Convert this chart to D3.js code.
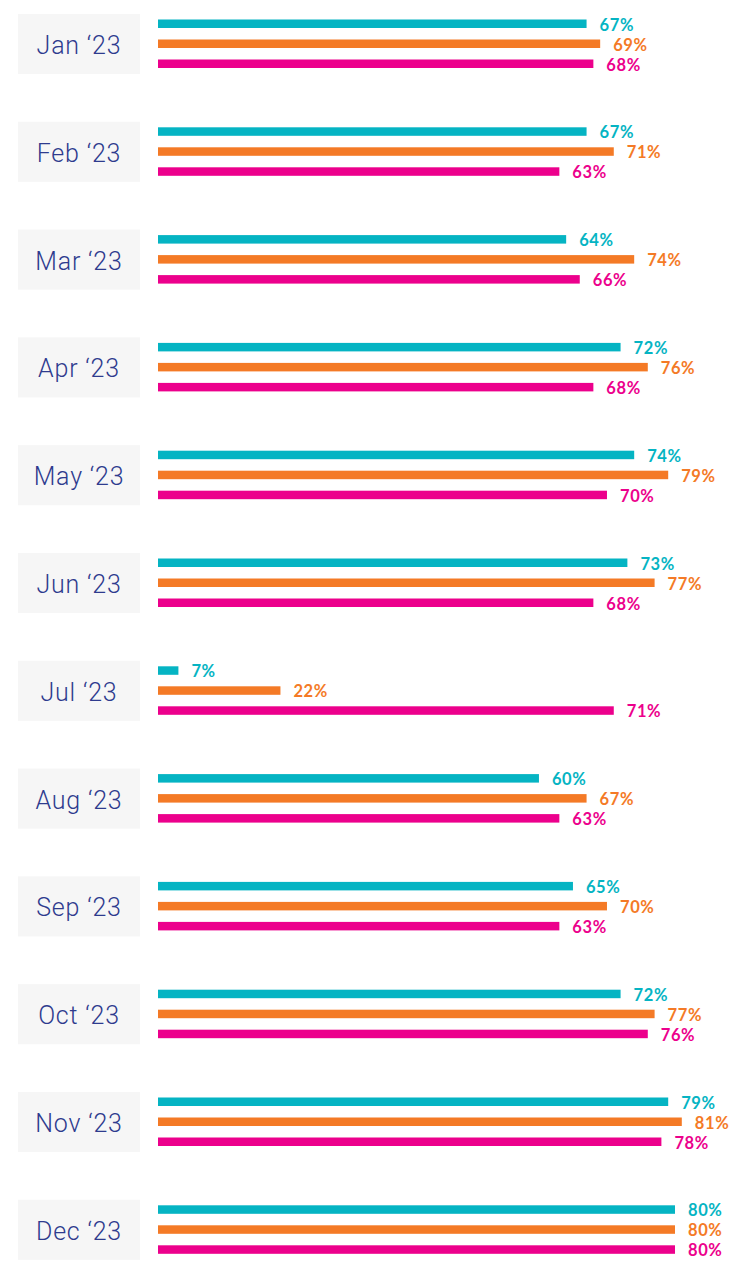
<!DOCTYPE html>
<html>
<head>
<meta charset="utf-8">
<script src="https://cdn.jsdelivr.net/npm/d3@7"></script>
<style>
  html, body { margin: 0; padding: 0; background: #ffffff; }
  svg { display: block; }
</style>
</head>
<body>
<div id="chart"></div>
<script>
const months = ["Jan \u201823", "Feb \u201823", "Mar \u201823", "Apr \u201823", "May \u201823", "Jun \u201823",
                "Jul \u201823", "Aug \u201823", "Sep \u201823", "Oct \u201823", "Nov \u201823", "Dec \u201823"];
const seriesTeal   = [67, 67, 64, 72, 74, 73, 7, 60, 65, 72, 79, 80];
const seriesOrange = [69, 71, 74, 76, 79, 77, 22, 67, 70, 77, 81, 80];
const seriesPink   = [68, 63, 66, 68, 70, 68, 71, 63, 63, 76, 78, 80];
const seriesNames  = ["teal", "orange", "pink"];
const seriesColors = ["#05b4c3", "#f47a26", "#ec008c"];

const W = 755, H = 1269;
const svg = d3.select("#chart").append("svg").attr("width", W).attr("height", H);

const allSeries = [seriesTeal, seriesOrange, seriesPink];

const step = 107.8;
const groupTop = i => 14 + i * step;

const x = d3.scaleLinear().domain([4, 80]).range([158, 675]);
const sub = d3.scaleBand().domain(seriesNames).range([-30, 30]);

const groups = svg.selectAll("g.month")
  .data(months)
  .join("g")
  .attr("class", "month")
  .attr("transform", (d, i) => `translate(0,${groupTop(i) + 30})`);

groups.append("rect")
  .attr("x", 18).attr("y", -30)
  .attr("width", 122).attr("height", 60)
  .attr("fill", "#f6f6f6");

groups.append("text")
  .attr("x", 79).attr("y", 1.5)
  .attr("text-anchor", "middle")
  .attr("dominant-baseline", "central")
  .attr("font-family", "Roboto, 'Open Sans', sans-serif")
  .attr("font-weight", 300)
  .attr("font-size", 25)
  .attr("letter-spacing", 0.8)
  .attr("fill", "#2e3b8e")
  .text(d => d);

seriesNames.forEach((name, s) => {
  const vals = allSeries[s];
  const cy = sub(name) + sub.bandwidth() / 2;
  groups.append("rect")
    .attr("x", x(4))
    .attr("y", cy - 4.5)
    .attr("width", (d, i) => x(vals[i]) - x(4))
    .attr("height", 8.5)
    .attr("fill", seriesColors[s]);
  groups.append("text")
    .attr("x", (d, i) => x(vals[i]) + 13)
    .attr("y", cy + 0.5)
    .attr("dominant-baseline", "central")
    .attr("font-family", "Lato, sans-serif")
    .attr("font-weight", 700)
    .attr("font-size", 16.5)
    .attr("letter-spacing", 0.6)
    .attr("fill", seriesColors[s])
    .text((d, i) => vals[i] + "%");
});
</script>
</body>
</html>
